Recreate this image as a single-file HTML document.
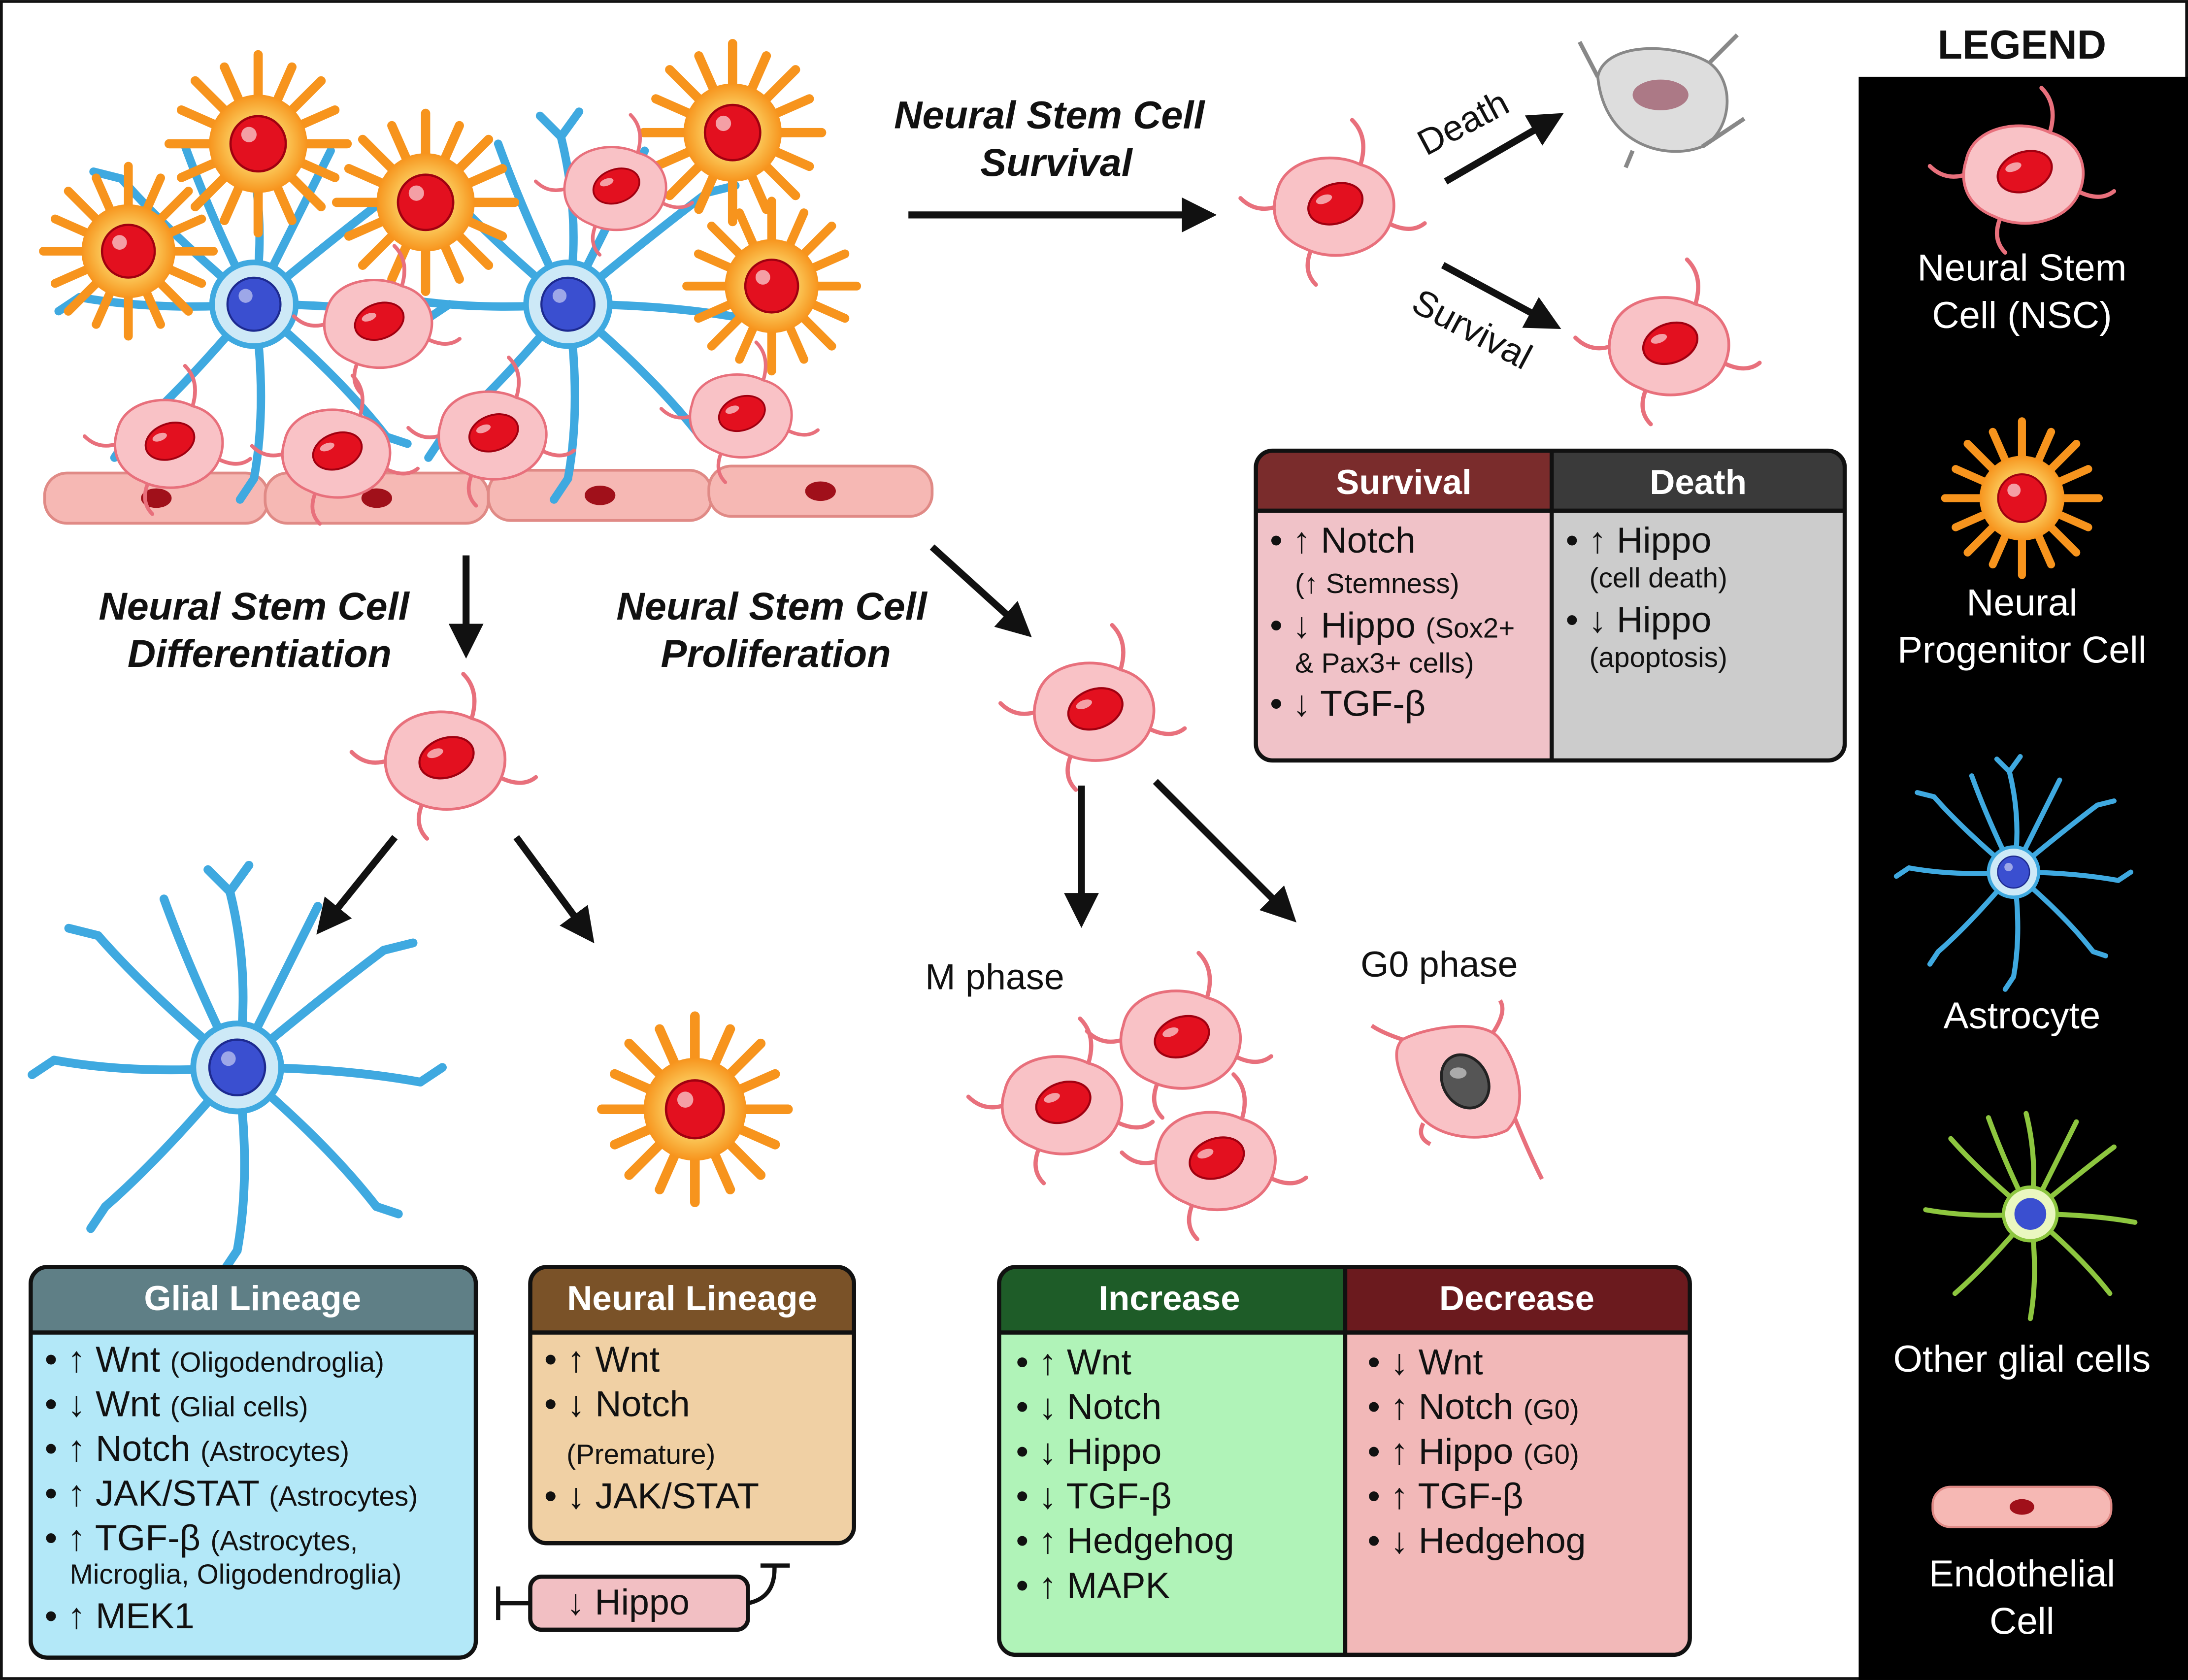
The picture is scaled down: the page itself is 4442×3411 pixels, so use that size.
<!DOCTYPE html>
<html><head><meta charset="utf-8"><style>
html,body{margin:0;padding:0;background:#fff}
svg{display:block}
text{font-family:"Liberation Sans",sans-serif}
.t{font-size:26px;fill:#111}
.s{font-size:20px;fill:#111}
.h{font-size:25px;font-weight:bold;fill:#fff}
.it{font-size:28px;font-weight:bold;font-style:italic;fill:#111}
.lg{font-size:27px;fill:#fff}
.ar{stroke:#111;stroke-width:5;fill:none}
</style></head><body>
<svg width="4442" height="3411" viewBox="0 0 1568 1204" xmlns="http://www.w3.org/2000/svg">
<defs>
<marker id="ah" viewBox="0 0 10 10" refX="6" refY="5" markerWidth="5" markerHeight="5" orient="auto"><path d="M0,0 L10,5 L0,10 Z" fill="#111"/></marker>
<radialGradient id="pg"><stop offset="0.3" stop-color="#fde57a"/><stop offset="1" stop-color="#f7941d"/></radialGradient>
<g id="nsc">
 <g stroke="#e8707c" stroke-width="3" fill="none" stroke-linecap="round">
  <path d="M-40,0 Q-55,5 -66,-6"/><path d="M20,-30 Q26,-50 14,-62"/><path d="M40,12 Q56,20 66,12"/><path d="M-15,30 Q-22,46 -12,56"/>
 </g>
 <path d="M-40,-10 C-35,-35 0,-40 20,-30 C40,-25 50,-5 40,15 C30,35 0,40 -20,30 C-40,22 -45,5 -40,-10Z" fill="#f9c2c6" stroke="#e8707c" stroke-width="2"/>
 <ellipse cx="2" cy="-2" rx="20" ry="14" transform="rotate(-20 2 -2)" fill="#e3101f" stroke="#a00010" stroke-width="1.5"/>
 <ellipse cx="-4" cy="-7" rx="6" ry="3" transform="rotate(-20)" fill="#fff" opacity="0.6"/>
</g>
<g id="prog">
 <g stroke="#f7941d" stroke-width="6" stroke-linecap="round">
  <line x1="0" y1="0" x2="0" y2="-58"/><line x1="0" y1="0" x2="0" y2="58"/><line x1="0" y1="0" x2="58" y2="0"/><line x1="0" y1="0" x2="-58" y2="0"/>
  <line x1="0" y1="0" x2="41" y2="41"/><line x1="0" y1="0" x2="-41" y2="41"/><line x1="0" y1="0" x2="41" y2="-41"/><line x1="0" y1="0" x2="-41" y2="-41"/>
  <line x1="0" y1="0" x2="22" y2="-50"/><line x1="0" y1="0" x2="-22" y2="50"/><line x1="0" y1="0" x2="50" y2="22"/><line x1="0" y1="0" x2="-50" y2="-22"/>
  <line x1="0" y1="0" x2="50" y2="-22"/><line x1="0" y1="0" x2="-50" y2="22"/><line x1="0" y1="0" x2="22" y2="50"/><line x1="0" y1="0" x2="-22" y2="-50"/>
 </g>
 <circle r="32" fill="url(#pg)"/>
 <circle r="18" fill="#e3101f" stroke="#a00010" stroke-width="1.5"/>
 <circle cx="-6" cy="-6" r="5" fill="#fff" opacity="0.6"/>
</g>
<g id="astro">
 <g stroke="#3fa9e0" stroke-width="6" stroke-linecap="round" fill="none">
  <path d="M0,0 Q10,-60 -5,-120"/><path d="M0,0 Q60,-50 100,-80"/><path d="M0,0 Q70,0 125,10"/><path d="M0,0 Q60,50 95,95"/><path d="M0,0 Q10,70 0,125"/>
  <path d="M0,0 Q-50,60 -90,95"/><path d="M0,0 Q-70,5 -125,-5"/><path d="M0,0 Q-60,-50 -95,-90"/><path d="M0,0 Q30,-60 55,-110"/><path d="M0,0 Q-30,-60 -50,-115"/>
  <path d="M-5,-120 L-20,-135 M-5,-120 L8,-138 M100,-80 L120,-85 M125,10 L140,0 M95,95 L110,100 M0,125 L-10,140 M-90,95 L-100,110 M-125,-5 L-140,5 M-95,-90 L-115,-95"/>
 </g>
 <circle r="30" fill="#cde9f7" stroke="#3fa9e0" stroke-width="4"/>
 <circle r="19" fill="#3a4fd0" stroke="#1d2a90" stroke-width="1.5"/>
 <circle cx="-6" cy="-6" r="5" fill="#fff" opacity="0.5"/>
</g>
<g id="endo">
 <rect x="-80" y="-18" width="160" height="36" rx="16" fill="#f6b8b4" stroke="#e08a86" stroke-width="2"/>
 <ellipse rx="11" ry="7" fill="#a0101a"/>
</g>
</defs>

<rect x="1" y="1" width="1566" height="1202" fill="#fff" stroke="#111" stroke-width="2"/>

<use href="#endo" x="112" y="357"/><use href="#endo" x="270" y="357"/><use href="#endo" x="430" y="355"/><use href="#endo" x="588" y="352"/>
<use href="#astro" transform="translate(182,218)"/>
<use href="#astro" transform="translate(407,218)"/>
<use href="#prog" transform="translate(185,103) scale(1.1)"/>
<use href="#prog" transform="translate(92,180) scale(1.05)"/>
<use href="#prog" transform="translate(305,145) scale(1.1)"/>
<use href="#prog" transform="translate(525,95) scale(1.1)"/>
<use href="#prog" transform="translate(553,205) scale(1.05)"/>
<use href="#nsc" transform="translate(440,135) scale(0.85)"/>
<use href="#nsc" transform="translate(270,232) scale(0.9)"/>
<use href="#nsc" transform="translate(240,325) scale(0.9)"/>
<use href="#nsc" transform="translate(352,312) scale(0.9)"/>
<use href="#nsc" transform="translate(120,318) scale(0.9)"/>
<use href="#nsc" transform="translate(530,298) scale(0.85)"/>

<text class="it" x="752" y="92" text-anchor="middle">Neural Stem Cell</text>
<text class="it" x="757" y="126" text-anchor="middle">Survival</text>
<line class="ar" x1="651" y1="154" x2="862" y2="154" marker-end="url(#ah)"/>
<use href="#nsc" transform="translate(955,148)"/>
<line class="ar" x1="1036" y1="130" x2="1112" y2="86" marker-end="url(#ah)"/>
<line class="ar" x1="1034" y1="190" x2="1110" y2="231" marker-end="url(#ah)"/>
<text class="t" transform="translate(1022,112) rotate(-28)">Death</text>
<text class="t" transform="translate(1010,222) rotate(28)">Survival</text>
<g transform="translate(1190,70)">
 <path d="M-45,-15 C-40,-40 10,-40 35,-25 C55,-10 50,25 30,35 C5,45 -40,35 -45,-15Z" fill="#ddd" stroke="#888" stroke-width="2"/>
 <path d="M-45,-15 L-58,-40 M35,-25 L55,-45 M30,35 L60,15 M-20,38 L-25,50" stroke="#888" stroke-width="3"/>
 <ellipse cx="0" cy="-2" rx="20" ry="11" fill="#a06070" opacity="0.8"/>
</g>
<use href="#nsc" transform="translate(1195,248)"/>

<g>
 <rect x="900" y="323" width="422" height="222" rx="12" fill="#ccc"/>
 <path d="M912,323 H1112 V545 H912 Q900,545 900,533 V335 Q900,323 912,323Z" fill="#f0c2c8"/>
 <path d="M912,323 H1112 V366 H900 V335 Q900,323 912,323Z" fill="#7a2c2c"/>
 <path d="M1112,323 H1310 Q1322,323 1322,335 V366 H1112Z" fill="#3a3a3a"/>
 <line x1="900" y1="366" x2="1322" y2="366" stroke="#111" stroke-width="3"/>
 <line x1="1112" y1="323" x2="1112" y2="545" stroke="#111" stroke-width="3"/>
 <rect x="900" y="323" width="422" height="222" rx="12" fill="none" stroke="#111" stroke-width="3"/>
 <text class="h" x="1006" y="354" text-anchor="middle">Survival</text>
 <text class="h" x="1217" y="354" text-anchor="middle">Death</text>
 <text class="t" x="910" y="396">• ↑ Notch</text>
 <text class="s" x="928" y="425">(↑ Stemness)</text>
 <text class="t" x="910" y="457">• ↓ Hippo <tspan class="s">(Sox2+</tspan></text>
 <text class="s" x="928" y="482">&amp; Pax3+ cells)</text>
 <text class="t" x="910" y="513">• ↓ TGF-β</text>
 <text class="t" x="1122" y="396">• ↑ Hippo</text>
 <text class="s" x="1139" y="421">(cell death)</text>
 <text class="t" x="1122" y="453">• ↓ Hippo</text>
 <text class="s" x="1139" y="478">(apoptosis)</text>
</g>

<text class="it" x="182" y="444" text-anchor="middle">Neural Stem Cell</text>
<text class="it" x="186" y="478" text-anchor="middle">Differentiation</text>
<line class="ar" x1="334" y1="398" x2="334" y2="462" marker-end="url(#ah)"/>
<use href="#nsc" transform="translate(318,545)"/>
<line class="ar" x1="283" y1="600" x2="233" y2="662" marker-end="url(#ah)"/>
<line class="ar" x1="370" y1="600" x2="420" y2="668" marker-end="url(#ah)"/>
<use href="#astro" transform="translate(170,765) scale(1.05)"/>
<use href="#prog" transform="translate(498,795) scale(1.15)"/>

<text class="it" x="553" y="444" text-anchor="middle">Neural Stem Cell</text>
<text class="it" x="556" y="478" text-anchor="middle">Proliferation</text>
<line class="ar" x1="668" y1="392" x2="732" y2="450" marker-end="url(#ah)"/>
<use href="#nsc" transform="translate(783,510)"/>
<line class="ar" x1="775" y1="563" x2="775" y2="655" marker-end="url(#ah)"/>
<line class="ar" x1="828" y1="560" x2="922" y2="654" marker-end="url(#ah)"/>
<text class="t" x="663" y="709">M phase</text>
<text class="t" x="975" y="700">G0 phase</text>
<use href="#nsc" transform="translate(845,745)"/>
<use href="#nsc" transform="translate(760,792)"/>
<use href="#nsc" transform="translate(870,832)"/>
<g transform="translate(1045,775)">
 <g stroke="#e8707c" stroke-width="3" fill="none"><path d="M-40,-30 Q-55,-35 -62,-40"/><path d="M25,-35 Q35,-50 30,-58"/><path d="M40,25 Q50,50 60,70"/><path d="M-25,30 Q-30,40 -20,45"/></g>
 <path d="M-40,-30 C-20,-40 20,-45 30,-30 C45,-10 50,20 35,35 C15,45 -20,40 -30,20 C-40,0 -50,-20 -40,-30Z" fill="#f9c2c6" stroke="#e8707c" stroke-width="2"/>
 <ellipse cx="5" cy="0" rx="16" ry="20" transform="rotate(-30 5 0)" fill="#555" stroke="#222" stroke-width="2"/>
 <ellipse cx="0" cy="-6" rx="6" ry="4" fill="#aaa"/>
</g>

<g>
 <rect x="22" y="908" width="319" height="280" rx="12" fill="#b3e8f8"/>
 <path d="M34,908 H329 Q341,908 341,920 V955 H22 V920 Q22,908 34,908Z" fill="#5f7f86"/>
 <line x1="22" y1="955" x2="341" y2="955" stroke="#111" stroke-width="3"/>
 <rect x="22" y="908" width="319" height="280" rx="12" fill="none" stroke="#111" stroke-width="3"/>
 <text class="h" x="181" y="939" text-anchor="middle">Glial Lineage</text>
 <text class="t" x="32" y="983">• ↑ Wnt <tspan class="s">(Oligodendroglia)</tspan></text>
 <text class="t" x="32" y="1015">• ↓ Wnt <tspan class="s">(Glial cells)</tspan></text>
 <text class="t" x="32" y="1047">• ↑ Notch <tspan class="s">(Astrocytes)</tspan></text>
 <text class="t" x="32" y="1079">• ↑ JAK/STAT <tspan class="s">(Astrocytes)</tspan></text>
 <text class="t" x="32" y="1111">• ↑ TGF-β <tspan class="s">(Astrocytes,</tspan></text>
 <text class="s" x="50" y="1135">Microglia, Oligodendroglia)</text>
 <text class="t" x="32" y="1167">• ↑ MEK1</text>
</g>

<g>
 <rect x="380" y="908" width="232" height="198" rx="12" fill="#f0d0a4"/>
 <path d="M392,908 H600 Q612,908 612,920 V955 H380 V920 Q380,908 392,908Z" fill="#7a5228"/>
 <line x1="380" y1="955" x2="612" y2="955" stroke="#111" stroke-width="3"/>
 <rect x="380" y="908" width="232" height="198" rx="12" fill="none" stroke="#111" stroke-width="3"/>
 <text class="h" x="496" y="939" text-anchor="middle">Neural Lineage</text>
 <text class="t" x="390" y="983">• ↑ Wnt</text>
 <text class="t" x="390" y="1015">• ↓ Notch</text>
 <text class="s" x="406" y="1049">(Premature)</text>
 <text class="t" x="390" y="1081">• ↓ JAK/STAT</text>
</g>
<rect x="380" y="1130" width="156" height="38" rx="8" fill="#f2bfc3" stroke="#111" stroke-width="3"/>
<text class="t" x="406" y="1157">↓ Hippo</text>
<line x1="380" y1="1149" x2="357" y2="1149" stroke="#111" stroke-width="3"/>
<line x1="357" y1="1137" x2="357" y2="1161" stroke="#111" stroke-width="3"/>
<path d="M536,1149 Q556,1145 555,1122" stroke="#111" stroke-width="3" fill="none"/>
<line x1="545" y1="1122" x2="566" y2="1122" stroke="#111" stroke-width="3"/>

<g>
 <rect x="716" y="908" width="495" height="278" rx="12" fill="#f2b8b8"/>
 <path d="M728,908 H964 V1186 H728 Q716,1186 716,1174 V920 Q716,908 728,908Z" fill="#b0f3b8"/>
 <path d="M728,908 H964 V955 H716 V920 Q716,908 728,908Z" fill="#1e5c28"/>
 <path d="M964,908 H1199 Q1211,908 1211,920 V955 H964Z" fill="#6b1a1e"/>
 <line x1="716" y1="955" x2="1211" y2="955" stroke="#111" stroke-width="3"/>
 <line x1="964" y1="908" x2="964" y2="1186" stroke="#111" stroke-width="3"/>
 <rect x="716" y="908" width="495" height="278" rx="12" fill="none" stroke="#111" stroke-width="3"/>
 <text class="h" x="838" y="939" text-anchor="middle">Increase</text>
 <text class="h" x="1087" y="939" text-anchor="middle">Decrease</text>
 <text class="t" x="728" y="985">• ↑ Wnt</text>
 <text class="t" x="728" y="1017">• ↓ Notch</text>
 <text class="t" x="728" y="1049">• ↓ Hippo</text>
 <text class="t" x="728" y="1081">• ↓ TGF-β</text>
 <text class="t" x="728" y="1113">• ↑ Hedgehog</text>
 <text class="t" x="728" y="1145">• ↑ MAPK</text>
 <text class="t" x="980" y="985">• ↓ Wnt</text>
 <text class="t" x="980" y="1017">• ↑ Notch <tspan class="s">(G0)</tspan></text>
 <text class="t" x="980" y="1049">• ↑ Hippo <tspan class="s">(G0)</tspan></text>
 <text class="t" x="980" y="1081">• ↑ TGF-β</text>
 <text class="t" x="980" y="1113">• ↓ Hedgehog</text>
</g>

<text x="1449" y="42" text-anchor="middle" style="font-size:29px;font-weight:bold;fill:#111">LEGEND</text>
<rect x="1332" y="55" width="236" height="1149" fill="#000"/>
<use href="#nsc" transform="translate(1449,125)"/>
<text class="lg" x="1449" y="201" text-anchor="middle">Neural Stem</text>
<text class="lg" x="1449" y="235" text-anchor="middle">Cell (NSC)</text>
<use href="#prog" transform="translate(1449,357) scale(0.95)"/>
<text class="lg" x="1449" y="441" text-anchor="middle">Neural</text>
<text class="lg" x="1449" y="475" text-anchor="middle">Progenitor Cell</text>
<use href="#astro" transform="translate(1443,625) scale(0.6)"/>
<text class="lg" x="1449" y="737" text-anchor="middle">Astrocyte</text>
<g transform="translate(1455,870) scale(0.6)">
 <g stroke="#8dc63f" stroke-width="6" stroke-linecap="round" fill="none">
  <path d="M0,0 Q10,-60 -5,-120"/><path d="M0,0 Q60,-50 100,-80"/><path d="M0,0 Q70,0 125,10"/><path d="M0,0 Q60,50 95,95"/><path d="M0,0 Q10,70 0,125"/>
  <path d="M0,0 Q-50,60 -90,95"/><path d="M0,0 Q-70,5 -125,-5"/><path d="M0,0 Q-60,-50 -95,-90"/><path d="M0,0 Q30,-60 55,-110"/><path d="M0,0 Q-30,-60 -50,-115"/>
 </g>
 <circle r="32" fill="#eaf7c0" stroke="#8dc63f" stroke-width="4"/>
 <circle r="19" fill="#3a4fd0"/>
</g>
<text class="lg" x="1449" y="983" text-anchor="middle">Other glial cells</text>
<g transform="translate(1449,1080) scale(0.8)"><use href="#endo"/></g>
<text class="lg" x="1449" y="1137" text-anchor="middle">Endothelial</text>
<text class="lg" x="1449" y="1171" text-anchor="middle">Cell</text>
</svg>
</body></html>
